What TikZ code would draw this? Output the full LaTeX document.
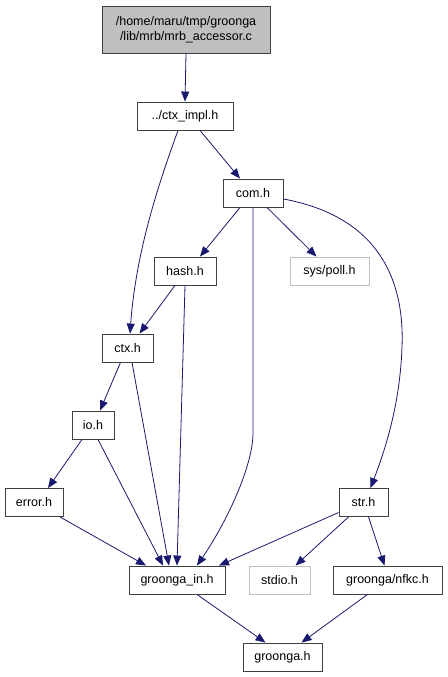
\documentclass[tikz,border=0pt]{standalone}
\usepackage{fontspec}
\setmainfont{Liberation Sans}
\usetikzlibrary{arrows.meta}
\definecolor{edgeblue}{HTML}{191970}
\definecolor{boxgray}{HTML}{BFBFBF}
\definecolor{boxline}{HTML}{404040}
\begin{document}
\begin{tikzpicture}[x=1pt,y=-1pt,
  file/.style={draw=boxline,line width=0.9pt,fill=white,inner sep=0pt,minimum height=28pt,font=\fontsize{12.5}{15}\selectfont},
  sysfile/.style={file,draw=boxgray},
  edge/.style={draw=edgeblue,line width=0.8pt,-{Triangle[length=10pt,width=8pt]}}]
\path[use as bounding box] (0,0) rectangle (447,677);
\node[file,fill=boxgray,minimum width=168pt,minimum height=47pt,align=center] (top) at (186,29.5) {/home/maru/tmp/groonga\\/lib/mrb/mrb\_accessor.c};
\node[file,minimum width=96pt] (ctximpl) at (185,116) {../ctx\_impl.h};
\node[file,minimum width=60pt] (com) at (253,193) {com.h};
\node[file,minimum width=62pt] (hash) at (185,271) {hash.h};
\node[sysfile,minimum width=79pt] (poll) at (329.5,271) {sys/poll.h};
\node[file,minimum width=51pt] (ctx) at (127.5,348) {ctx.h};
\node[file,minimum width=42pt] (io) at (93,425) {io.h};
\node[file,minimum width=58pt] (error) at (34,502.5) {error.h};
\node[file,minimum width=49pt] (str) at (363.5,502.5) {str.h};
\node[file,minimum width=96pt] (gin) at (177,580) {groonga\_in.h};
\node[sysfile,minimum width=61pt] (stdio) at (279.5,580) {stdio.h};
\node[file,minimum width=109pt] (nfkc) at (387.5,580) {groonga/nfkc.h};
\node[file,minimum width=79pt] (groonga) at (282.5,657) {groonga.h};

\draw[edge] (top.south) -- (ctximpl.north);
\draw[edge] ([xshift=15pt]ctximpl.south) -- ([xshift=-13pt]com.north);
\draw[edge] ([xshift=-7pt]ctximpl.south) .. controls (160,180) and (136,250) .. ([xshift=2.5pt]ctx.north);
\draw[edge] ([xshift=-13pt]com.south) -- ([xshift=15pt]hash.north);
\draw[edge] ([xshift=14pt]com.south) -- ([xshift=-13pt]poll.north);
\draw[edge] (com.south) -- (253,433) .. controls (253,465) and (228,520) .. ([xshift=20pt]gin.north);
\draw[edge] ([yshift=-6pt]com.east) .. controls (370,215) and (405,270) .. (402,347) .. controls (400,405) and (385,450) .. ([xshift=7pt]str.north);
\draw[edge] ([xshift=-10pt]hash.south) -- ([xshift=12pt]ctx.north);
\draw[edge] (hash.south) -- (gin.north);
\draw[edge] ([xshift=-7pt]ctx.south) -- ([xshift=7pt]io.north);
\draw[edge] ([xshift=4.5pt]ctx.south) -- ([xshift=-8pt]gin.north);
\draw[edge] ([xshift=-11pt]io.south) -- ([xshift=14pt]error.north);
\draw[edge] ([xshift=5pt]io.south) -- ([xshift=-14pt]gin.north);
\draw[edge] ([xshift=26pt]error.south) -- ([xshift=-31pt]gin.north);
\draw[edge] ([yshift=-10pt]str.west) -- ([xshift=42pt]gin.north);
\draw[edge] ([xshift=-15pt]str.south) -- ([xshift=16pt]stdio.north);
\draw[edge] ([xshift=5pt]str.south) -- ([xshift=-3pt]nfkc.north);
\draw[edge] ([xshift=20pt]gin.south) -- ([xshift=-17pt]groonga.north);
\draw[edge] ([xshift=-20pt]nfkc.south) -- ([xshift=19pt]groonga.north);
\end{tikzpicture}
\end{document}
